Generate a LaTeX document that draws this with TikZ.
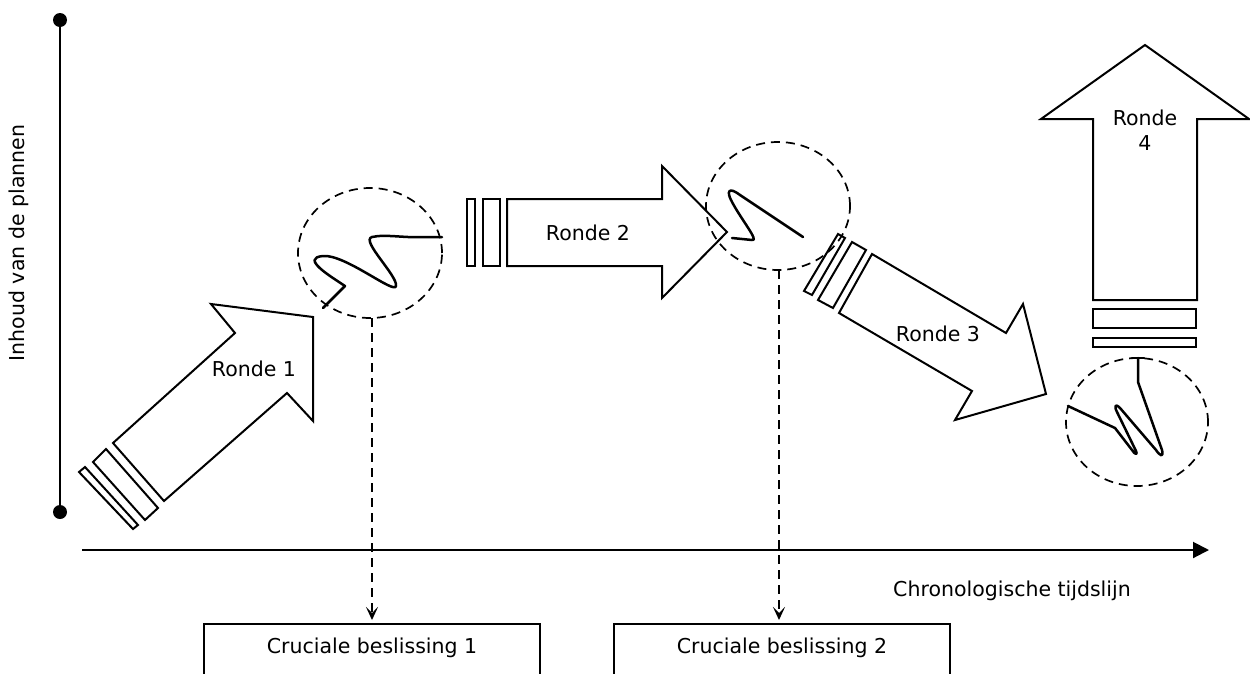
\documentclass[tikz,border=0pt]{standalone}
\usepackage{fontspec}
\setmainfont{DejaVu Sans}
\usetikzlibrary{arrows.meta}
\begin{document}
\begin{tikzpicture}[x=1pt,y=-1pt,
  blockarrow/.style={draw=black,line width=2pt,line join=miter,fill=white},
  bar/.style={draw=black,line width=2pt,fill=white},
  zone/.style={draw=black,line width=1.7pt,dash pattern=on 9pt off 6pt},
  squig/.style={draw=black,line width=2.5pt,line join=round,line cap=round},
  lbl/.style={font=\fontsize{20.5}{25}\selectfont,inner sep=0pt},
  decbox/.style={draw=black,line width=2pt,minimum width=336pt,minimum height=80pt,inner sep=0pt},
  drop/.style={line width=1.7pt,dash pattern=on 9pt off 6pt,shorten >=3pt,-{Stealth[length=13pt,width=12pt,inset=6pt]}}]
\useasboundingbox (0,0) rectangle (1250,673);

% vertical axis
\coordinate (ytop) at (60,20);
\coordinate (ybot) at (60,512);
\draw[line width=2pt] (ytop) -- (ybot);
\fill (ytop) circle (7pt);
\fill (ybot) circle (7pt);
\node[lbl,rotate=90] (ylab) at (19,243) {Inhoud van de plannen};

% time axis
\coordinate (t0) at (82,550);
\coordinate (t1) at (1209,550);
\draw[line width=2pt,-{Triangle[length=16pt,width=16pt]}] (t0) -- (t1);
\node[lbl] (tlab) at (1012,591) {Chronologische tijdslijn};

% round 1
\draw[bar] (79,472) -- (85,467) -- (138,525) -- (133,529) -- cycle;
\draw[bar] (93,462) -- (106,449) -- (158,508) -- (145,520) -- cycle;
\draw[blockarrow] (113,443) -- (235,333) -- (211,304) -- (313,317) -- (313,421)
  -- (287,393) -- (164,501) -- cycle;
\node[lbl] (r1) at (254,369) {Ronde 1};

% round 2
\draw[bar] (467,199) rectangle (475,266);
\draw[bar] (483,199) rectangle (500,266);
\draw[blockarrow] (507,199) -- (662,199) -- (662,166) -- (727,232) -- (662,298)
  -- (662,266) -- (507,266) -- cycle;
\node[lbl] (r2) at (588,233) {Ronde 2};

% round 3
\draw[bar] (804,291) -- (812,295) -- (845,238) -- (838,234) -- cycle;
\draw[bar] (818,300) -- (833,308) -- (866,250) -- (852,242) -- cycle;
\draw[blockarrow] (872,254) -- (1006,333) -- (1023,304) -- (1046,394) -- (955,420)
  -- (972,391) -- (839,313) -- cycle;
\node[lbl] (r3) at (938,334) {Ronde 3};

% round 4
\draw[blockarrow] (1093,300) -- (1093,119) -- (1041,119) -- (1145,45) -- (1249,119)
  -- (1197,119) -- (1197,300) -- cycle;
\draw[bar] (1093,309) rectangle (1196,328);
\draw[bar] (1093,338) rectangle (1196,347);
\node[lbl,align=center] (r4) at (1145,130) {Ronde\\4};

% decision zone 1
\draw[zone] (370,253) ellipse [x radius=72pt,y radius=65pt];
\coordinate (z1s) at (372,318);
\draw[squig] (323,308) -- (345,286)
  .. controls (330,276) and (300,258) .. (323,256)
  .. controls (345,254) and (395,295) .. (396,286)
  .. controls (398,276) and (360,240) .. (372,237)
  .. controls (385,234) and (405,238) .. (420,237) -- (442,237);

% decision zone 2
\draw[zone] (778,206) ellipse [x radius=72pt,y radius=64pt];
\coordinate (z2s) at (779,270);
\draw[squig] (803,237) -- (740,195)
  .. controls (728,186) and (727,192) .. (731,200)
  .. controls (740,218) and (760,242) .. (752,240)
  -- (732,238);

% decision zone 3
\draw[zone] (1137,422) ellipse [x radius=71pt,y radius=64pt];
\draw[squig] (1132,358) -- (1144,358);
\draw[squig] (1138,358) -- (1138,382) -- (1162,450)
  .. controls (1164,458) and (1160,456) .. (1156,450)
  -- (1120,408)
  .. controls (1115,403) and (1114,406) .. (1117,412)
  -- (1136,451)
  .. controls (1138,455) and (1135,455) .. (1132,450)
  -- (1115,428) -- (1068,406);

% decisions
\node[decbox] (d1) at (372,664) {};
\node[lbl] (d1t) at (372,648) {Cruciale beslissing 1};
\node[decbox] (d2) at (782,664) {};
\node[lbl] (d2t) at (782,648) {Cruciale beslissing 2};
\draw[drop] (z1s) -- (z1s |- d1.north);
\draw[drop] (z2s) -- (z2s |- d2.north);
\end{tikzpicture}
\end{document}
